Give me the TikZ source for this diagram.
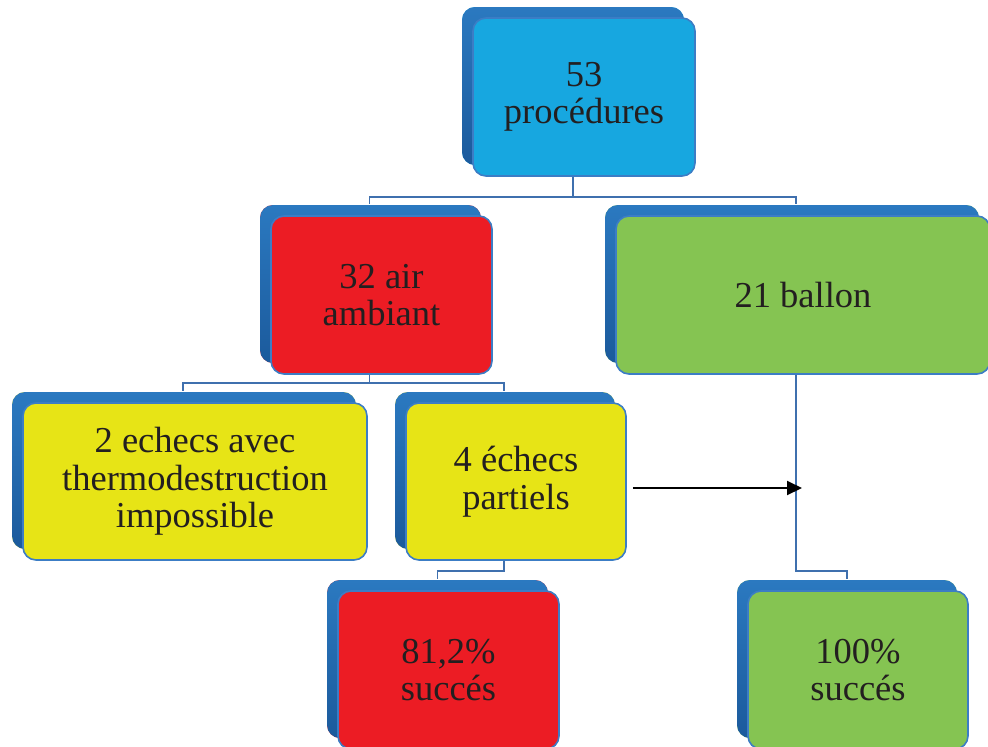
\documentclass[tikz,border=0pt]{standalone}
\usepackage{fontspec}
\setmainfont{Liberation Serif}
\usetikzlibrary{shadows,arrows.meta}
\definecolor{backblueT}{HTML}{2B79C0}
\definecolor{backblueB}{HTML}{1B5A9C}
\definecolor{edgeblue}{HTML}{3C7DC5}
\definecolor{connblue}{HTML}{3F70AE}
\definecolor{cyanbox}{HTML}{17A7E0}
\definecolor{redbox}{HTML}{EC1C24}
\definecolor{greenbox}{HTML}{85C452}
\definecolor{yellowbox}{HTML}{E7E416}
\definecolor{txt}{HTML}{231F20}
\begin{document}
\begin{tikzpicture}[x=1pt,y=-1pt,
  card/.style={rounded corners=13pt, draw=edgeblue, line width=1.6pt,
    align=center, text=txt, inner sep=0pt,
    font=\fontsize{36.5}{37.5}\selectfont,
    copy shadow={shadow xshift=-11pt, shadow yshift=11pt, draw=none,
      top color=backblueT, bottom color=backblueB}},
  conn/.style={draw=connblue, line width=1.5pt},
  arr/.style={draw=black, line width=2pt, -{Triangle[length=15pt,width=14pt]}}]
\useasboundingbox (0,0) rectangle (988,747);
% connectors (behind boxes)
\coordinate (arrowend) at (802,488);
\node[card, fill=cyanbox, minimum width=222pt, minimum height=158pt] (top) at (584,97) {53\\procédures};
\node[card, fill=redbox, minimum width=221pt, minimum height=158pt] (air) at (381.5,295) {32 air\\ambiant};
\node[card, fill=greenbox, minimum width=374pt, minimum height=158pt] (ballon) at (803,295) {21 ballon};
\node[card, fill=yellowbox, minimum width=344pt, minimum height=157pt] (ech2) at (195,481.5) {2 echecs avec\\thermodestruction\\impossible};
\node[card, fill=yellowbox, minimum width=220pt, minimum height=157pt] (ech4) at (516,481.5) {4 échecs\\partiels};
\node[card, fill=redbox, minimum width=221pt, minimum height=158pt] (s81) at (448.5,670) {81,2\%\\succés};
\node[card, fill=greenbox, minimum width=220pt, minimum height=158pt] (s100) at (858,670) {100\%\\succés};
\begin{scope}[on background layer/.try]
\end{scope}
\draw[conn] ([xshift=-11pt]top.south) -- ++(0,20) -| ([xshift=-12pt,yshift=11pt]air.north);
\draw[conn] ([xshift=-11pt]top.south) -- ++(0,20) -| ([xshift=-7pt,yshift=11pt]ballon.north);
\draw[conn] ([xshift=-12pt]air.south) -- ++(0,8) -| ([xshift=-12pt,yshift=11pt]ech2.north);
\draw[conn] ([xshift=-12pt]air.south) -- ++(0,8) -| ([xshift=-12pt,yshift=11pt]ech4.north);
\draw[conn] ([xshift=-12pt]ech4.south) -- ++(0,10) -| ([xshift=-11pt,yshift=11pt]s81.north);
\draw[conn] ([xshift=-7pt]ballon.south) -- ++(0,196) -| ([xshift=-11pt,yshift=11pt]s100.north);
\draw[arr] ([xshift=6pt,yshift=-6.5pt]ech4.east) -- (arrowend);
\end{tikzpicture}
\end{document}
